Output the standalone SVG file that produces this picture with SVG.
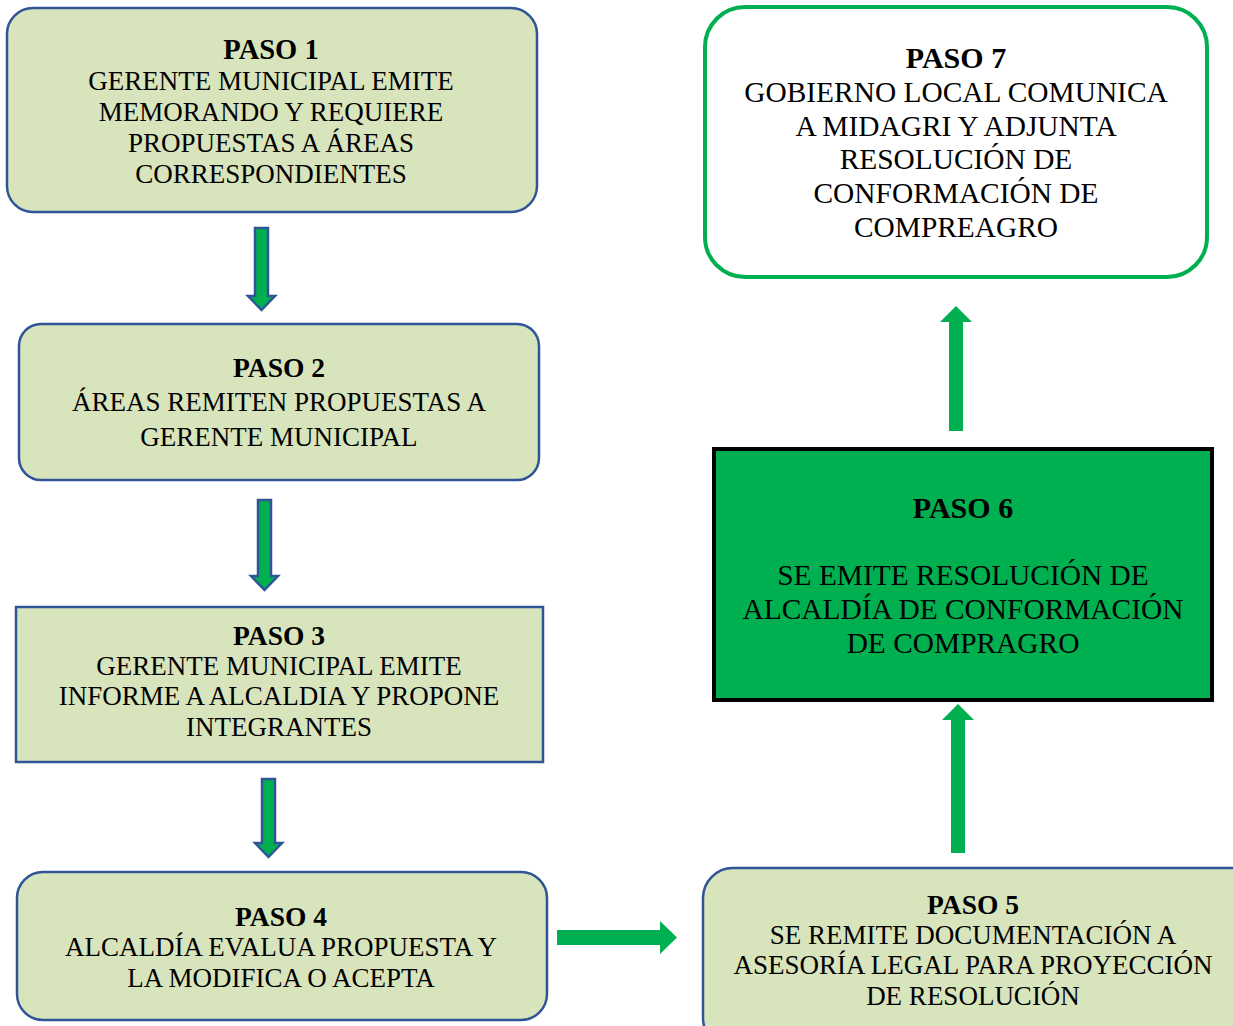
<svg xmlns="http://www.w3.org/2000/svg" width="1233" height="1026" viewBox="0 0 1233 1026">
<style>
.lb{fill:#D8E4BC;stroke:#2F5597;stroke-width:2.5}
.t{font-family:"Liberation Serif","Times New Roman",serif;font-size:27px;fill:#000;text-anchor:middle}
.tl{font-family:"Liberation Serif","Times New Roman",serif;font-size:29.4px;fill:#000;text-anchor:middle}
.b{font-weight:bold;font-size:27.5px}
.tl.b{font-size:30px}
.ad{fill:#00B050;stroke:#2F5597;stroke-width:2.5;stroke-linejoin:miter}
.ag{fill:#00B050;stroke:none}
</style>
<rect width="1233" height="1026" fill="#fff"/>
<g id="paso1">
<rect class="lb" x="7" y="8" width="530" height="204" rx="26"/>
<text class="t b" x="271" y="58.5" style="font-size:28.5px">PASO 1</text>
<text class="t" x="271" y="90">GERENTE MUNICIPAL EMITE</text>
<text class="t" x="271" y="121">MEMORANDO Y REQUIERE</text>
<text class="t" x="271" y="152">PROPUESTAS A ÁREAS</text>
<text class="t" x="271" y="183">CORRESPONDIENTES</text>
</g>
<g id="paso2">
<rect class="lb" x="19" y="324" width="520" height="156" rx="22"/>
<text class="t b" x="279" y="376.5">PASO 2</text>
<text class="t" x="279" y="411">ÁREAS REMITEN PROPUESTAS A</text>
<text class="t" x="279" y="446">GERENTE MUNICIPAL</text>
</g>
<g id="paso3">
<rect class="lb" x="16" y="607" width="527" height="155"/>
<text class="t b" x="279" y="644.5">PASO 3</text>
<text class="t" x="279" y="675">GERENTE MUNICIPAL EMITE</text>
<text class="t" x="279" y="705">INFORME A ALCALDIA Y PROPONE</text>
<text class="t" x="279" y="736">INTEGRANTES</text>
</g>
<g id="paso4">
<rect class="lb" x="17" y="872" width="530" height="148" rx="26"/>
<text class="t b" x="281" y="925.5">PASO 4</text>
<text class="t" x="281" y="956">ALCALDÍA EVALUA PROPUESTA Y</text>
<text class="t" x="281" y="987">LA MODIFICA O ACEPTA</text>
</g>
<g id="paso5">
<rect class="lb" x="703" y="868" width="560" height="180" rx="30"/>
<text class="t b" x="973" y="913.5">PASO 5</text>
<text class="t" x="973" y="944">SE REMITE DOCUMENTACIÓN A</text>
<text class="t" x="973" y="974">ASESORÍA LEGAL PARA PROYECCIÓN</text>
<text class="t" x="973" y="1005">DE RESOLUCIÓN</text>
</g>
<g id="paso6">
<rect x="714" y="449" width="498" height="251" fill="#00B050" stroke="#000" stroke-width="4"/>
<text class="tl b" x="963" y="518">PASO 6</text>
<text class="tl" x="963" y="585">SE EMITE RESOLUCIÓN DE</text>
<text class="tl" x="963" y="619">ALCALDÍA DE CONFORMACIÓN</text>
<text class="tl" x="963" y="653">DE COMPRAGRO</text>
</g>
<g id="paso7">
<rect x="705" y="7" width="502" height="270" rx="40" fill="#fff" stroke="#00B050" stroke-width="4"/>
<text class="tl b" x="956" y="68">PASO 7</text>
<text class="tl" x="956" y="102">GOBIERNO LOCAL COMUNICA</text>
<text class="tl" x="956" y="136">A MIDAGRI Y ADJUNTA</text>
<text class="tl" x="956" y="169">RESOLUCIÓN DE</text>
<text class="tl" x="956" y="203">CONFORMACIÓN DE</text>
<text class="tl" x="956" y="237">COMPREAGRO</text>
</g>
<g id="connectors">
<polygon class="ad" points="255,228 268,228 268,296 275,296 261.5,310 248,296 255,296"/>
<polygon class="ad" points="258,500 271,500 271,576 278,576 264.5,590 251,576 258,576"/>
<polygon class="ad" points="262,779 275,779 275,843 282,843 268.5,857 255,843 262,843"/>
<polygon class="ag" points="557,930 660,930 660,921 677,937.5 660,954 660,945 557,945"/>
<polygon class="ag" points="951,853 965,853 965,720 974,720 958,704 942,720 951,720"/>
<polygon class="ag" points="949,431 963,431 963,322 972,322 956,306 940,322 949,322"/>
</g>
</svg>
